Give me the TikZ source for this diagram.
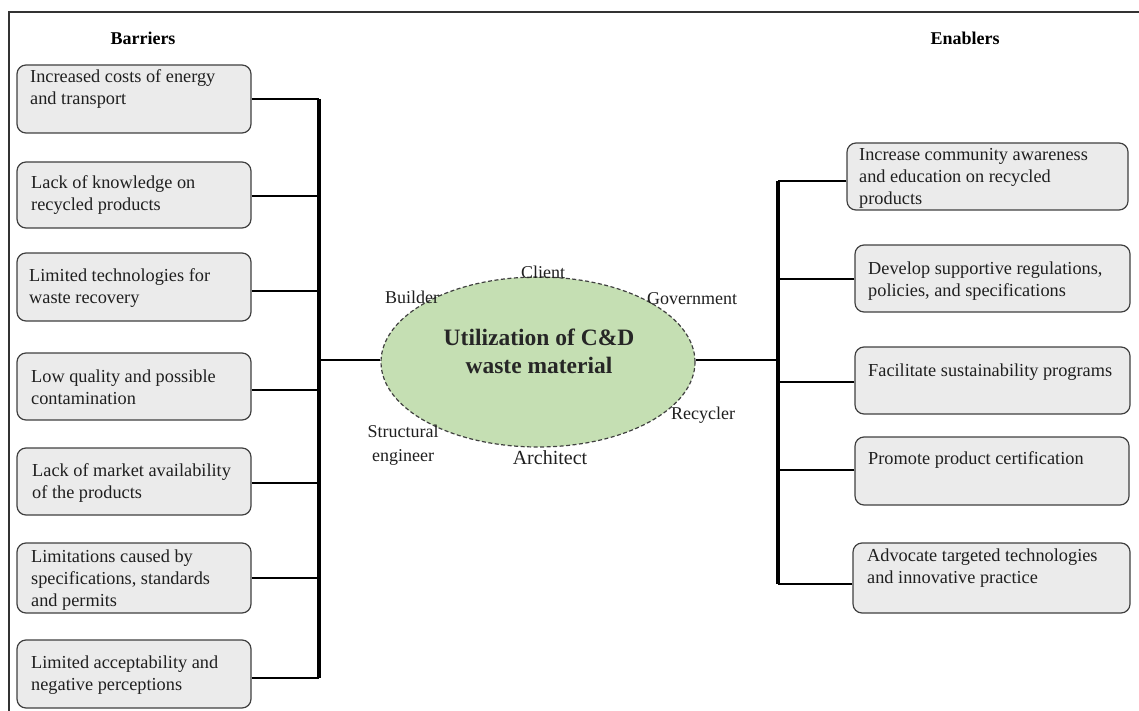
\documentclass[tikz,border=0pt]{standalone}
\usepackage{fontspec}
\setmainfont{Liberation Serif}
\usetikzlibrary{shapes.geometric,calc}
\definecolor{boxfill}{HTML}{EBEBEB}
\definecolor{boxline}{HTML}{404040}
\definecolor{ellfill}{HTML}{C5DFB3}
\begin{document}
\begin{tikzpicture}[x=1pt,y=-1pt,
  box/.style={draw=boxline, line width=1.2pt, fill=boxfill, rounded corners=9pt, inner sep=0pt},
  btxt/.style={anchor=west, align=left, inner sep=0pt, font=\fontsize{18.3}{22}\selectfont, text=black!88},
  lbl/.style={inner sep=0pt, font=\fontsize{18}{20}\selectfont, text=black!88, align=center},
  ttl/.style={inner sep=0pt, font=\fontsize{18}{22}\selectfont\bfseries},
  bus/.style={line width=4pt, black},
  conn/.style={line width=2.8pt, black}]
\useasboundingbox (0,0) rectangle (1139,711);
% frame
\draw[line width=2pt, black!80] (1139,12) -- (9,12) -- (9,711);
% titles
\node[ttl] (tb) at (143,38) {Barriers};
\node[ttl] (te) at (965,38) {Enablers};
% left boxes
\node[box, minimum width=234pt, minimum height=68pt] (b1) at (134,99) {};
\node[box, minimum width=234pt, minimum height=66pt] (b2) at (134,195) {};
\node[box, minimum width=234pt, minimum height=68pt] (b3) at (134,287) {};
\node[box, minimum width=234pt, minimum height=67pt] (b4) at (134,386.5) {};
\node[box, minimum width=234pt, minimum height=67pt] (b5) at (134,481.5) {};
\node[box, minimum width=234pt, minimum height=70pt] (b6) at (134,578) {};
\node[box, minimum width=234pt, minimum height=68pt] (b7) at (134,674) {};
\node[btxt] (t1) at (30,89) {Increased costs of energy\\and transport};
\node[btxt] (t2) at (31,195.5) {Lack of knowledge on\\recycled products};
\node[btxt] (t3) at (29,288) {Limited technologies for\\waste recovery};
\node[btxt] (t4) at (31,387.5) {Low quality and possible\\contamination};
\node[btxt] (t5) at (32,483.5) {Lack of market availability\\of the products};
\node[btxt] (t6) at (31,580) {Limitations caused by\\specifications, standards\\and permits};
\node[btxt] (t7) at (31,675) {Limited acceptability and\\negative perceptions};
% right boxes
\node[box, minimum width=281pt, minimum height=67pt] (r1) at (987.5,176.5) {};
\node[box, minimum width=275pt, minimum height=67pt] (r2) at (992.5,278.5) {};
\node[box, minimum width=275pt, minimum height=67pt] (r3) at (992.5,380.5) {};
\node[box, minimum width=274pt, minimum height=68pt] (r4) at (992,471) {};
\node[box, minimum width=277pt, minimum height=70pt] (r5) at (991.5,578) {};
\node[btxt] (s1) at (859,178) {Increase community awareness\\and education on recycled\\products};
\node[btxt] (s2) at (868,281.5) {Develop supportive regulations,\\policies, and specifications};
\node[btxt] (s3) at (868,372) {Facilitate sustainability programs};
\node[btxt] (s4) at (868,460) {Promote product certification};
\node[btxt] (s5) at (867,568.5) {Advocate targeted technologies\\and innovative practice};
% central ellipse
\node[ellipse, draw=black!75, dash pattern=on 4pt off 2.5pt, line width=1.2pt, fill=ellfill,
      minimum width=314pt, minimum height=170pt, inner sep=0pt] (c) at (538,362) {};
\node[inner sep=0pt, align=center, font=\fontsize{23.5}{28}\selectfont\bfseries, text=black!85] (ct) at (539,351)
  {Utilization of C\&D\\waste material};
% stakeholder labels
\node[lbl] (client) at (543,272) {Client};
\node[lbl] (builder) at (412,297) {Builder};
\node[lbl] (gov) at (692,299) {Government};
\node[lbl] (recyc) at (703,415) {Recycler};
\node[lbl, font=\fontsize{18}{24}\selectfont] (struct) at (403,445) {Structural\\engineer};
\node[lbl, font=\fontsize{20}{22}\selectfont] (arch) at (550,458) {Architect};
% buses
\coordinate (lt) at (319,99);
\coordinate (lb) at (319,678);
\coordinate (rt) at (778,181);
\coordinate (rb) at (778,584);
\draw[bus] (lt) -- (lb);
\draw[bus] (rt) -- (rb);
% left connectors
\draw[conn] (b1.east) -- (b1.east -| lt);
\draw[conn] ($(b2.east)+(0,1)$) -- ($(b2.east -| lt)+(0,1)$);
\draw[conn] ($(b3.east)+(0,4)$) -- ($(b3.east -| lt)+(0,4)$);
\draw[conn] ($(b4.east)+(0,3.5)$) -- ($(b4.east -| lt)+(0,3.5)$);
\draw[conn] ($(b5.east)+(0,1.5)$) -- ($(b5.east -| lt)+(0,1.5)$);
\draw[conn] (b6.east) -- (b6.east -| lt);
\draw[conn] ($(b7.east)+(0,4)$) -- (lb);
% right connectors
\draw[conn] ($(r1.west)+(0,4.5)$) -- (rt);
\draw[conn] ($(r2.west)+(0,0.5)$) -- ($(r2.west -| rt)+(0,0.5)$);
\draw[conn] ($(r3.west)+(0,1.5)$) -- ($(r3.west -| rt)+(0,1.5)$);
\draw[conn] ($(r4.west)+(0,-1)$) -- ($(r4.west -| rt)+(0,-1)$);
\draw[conn] ($(r5.west)+(0,6)$) -- (rb);
% main connectors
\draw[conn] (c.west |- 0,360) -- (lt |- 0,360);
\draw[conn] (c.east |- 0,360) -- (rt |- 0,360);
\end{tikzpicture}
\end{document}
